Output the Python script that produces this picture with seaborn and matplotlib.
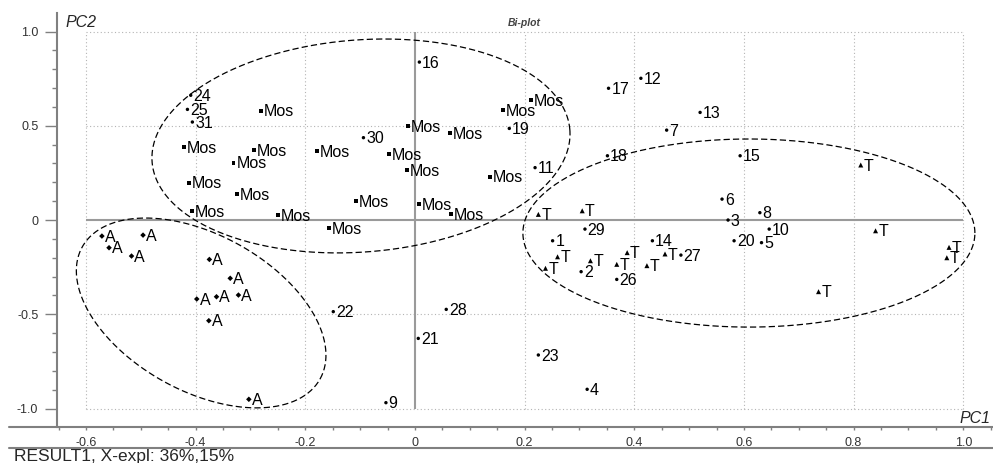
import numpy as np
import pandas as pd
import seaborn as sns
import matplotlib.pyplot as plt
from matplotlib.lines import Line2D

# scores (PC1, PC2)
mos_x = [-0.280, -0.421, -0.293, -0.331, -0.178, -0.413, -0.325, -0.407, -0.250, -0.157,
         -0.108, -0.013, 0.064, -0.047, -0.014, 0.007, 0.066, 0.137, 0.160, 0.212]
mos_y = [0.580, 0.386, 0.371, 0.304, 0.366, 0.198, 0.136, 0.048, 0.025, -0.044,
         0.101, 0.499, 0.460, 0.348, 0.265, 0.086, 0.030, 0.230, 0.584, 0.637]

num_labels = ['1', '2', '3', '4', '5', '6', '7', '8', '9', '10', '11', '12', '13', '14', '15', '16',
              '17', '18', '19', '20', '21', '22', '23', '24', '25', '26', '27', '28', '29', '30', '31']
num_x = [0.251, 0.303, 0.571, 0.314, 0.632, 0.560, 0.459, 0.629, -0.053, 0.646, 0.219, 0.412,
         0.520, 0.433, 0.593, 0.008, 0.353, 0.351, 0.172, 0.582, 0.006, -0.149, 0.225, -0.409,
         -0.415, 0.368, 0.485, 0.057, 0.310, -0.094, -0.406]
num_y = [-0.110, -0.274, 0.000, -0.898, -0.120, 0.111, 0.477, 0.039, -0.969, -0.048, 0.278, 0.752,
         0.571, -0.110, 0.341, 0.838, 0.699, 0.341, 0.486, -0.110, -0.628, -0.486, -0.716, 0.662,
         0.587, -0.315, -0.186, -0.474, -0.048, 0.437, 0.520]

a_x = [-0.571, -0.496, -0.558, -0.517, -0.375, -0.337, -0.398, -0.362, -0.322, -0.376, -0.303]
a_y = [-0.085, -0.080, -0.147, -0.191, -0.209, -0.309, -0.419, -0.407, -0.398, -0.534, -0.951]

t_x = [0.225, 0.305, 0.260, 0.238, 0.320, 0.387, 0.368, 0.423, 0.456, 0.813, 0.840, 0.974, 0.970, 0.736]
t_y = [0.030, 0.049, -0.195, -0.256, -0.216, -0.173, -0.235, -0.242, -0.180, 0.292, -0.057,
       -0.145, -0.200, -0.380]

# group ellipses: centre (data), semi axes (px), angle (deg)
ellipses = [(-0.0985, 0.393, 209.5, 106, 4.4),
            (0.609, -0.069, 226, 94, 0),
            (-0.390, -0.493, 136, 78, -29)]
PX_X, PX_Y = 548.3, 188.4  # pixels per unit on each axis

df = pd.concat([
    pd.DataFrame({'pc1': mos_x, 'pc2': mos_y, 'group': 'Mos', 'label': 'Mos'}),
    pd.DataFrame({'pc1': num_x, 'pc2': num_y, 'group': 'num', 'label': num_labels}),
    pd.DataFrame({'pc1': a_x, 'pc2': a_y, 'group': 'A', 'label': 'A'}),
    pd.DataFrame({'pc1': t_x, 'pc2': t_y, 'group': 'T', 'label': 'T'}),
], ignore_index=True)

sns.set_style('white')
plt.rcParams['font.family'] = ['Liberation Sans', 'DejaVu Sans']

fig = plt.figure(figsize=(9.93, 4.63), dpi=100)
ax = fig.add_axes([57 / 993, 36 / 463, 936 / 993, 414.3 / 463])

xticks = [-0.6, -0.4, -0.2, 0, 0.2, 0.4, 0.6, 0.8, 1.0]
yticks = [-1.0, -0.5, 0, 0.5, 1.0]

# dotted grid and solid zero lines
ax.hlines([y for y in yticks if y != 0], -0.6, 1.0, colors='#b4b4b4', lw=0.8, linestyles=(0, (1, 2.2)), zorder=1)
ax.vlines([x for x in xticks if x != 0], -1.0, 1.0, colors='#b4b4b4', lw=0.8, linestyles=(0, (1, 2.2)), zorder=1)
ax.hlines(0, -0.6, 1.0, colors='#9a9a9a', lw=1.5, zorder=2)
ax.vlines(0, -1.0, 1.0, colors='#9a9a9a', lw=1.5, zorder=2)

sns.scatterplot(data=df, x='pc1', y='pc2', hue='group', style='group', size='group',
                palette={'Mos': 'black', 'num': 'black', 'A': 'black', 'T': 'black'},
                markers={'Mos': 's', 'num': 'o', 'A': 'D', 'T': '^'},
                sizes={'Mos': 8, 'num': 6, 'A': 8, 'T': 13},
                linewidth=0, legend=False, ax=ax, zorder=5)

for _, r in df.iterrows():
    ax.annotate(r['label'], (r['pc1'], r['pc2']), xytext=(2, -4.1), textcoords='offset points',
                ha='left', va='baseline', fontsize=11.5, color='black', zorder=6)

for cx, cy, a, b, ang in ellipses:
    t = np.linspace(0, 2 * np.pi, 400)
    th = np.deg2rad(ang)
    u = a * np.cos(t) * np.cos(th) - b * np.sin(t) * np.sin(th)
    v = a * np.cos(t) * np.sin(th) + b * np.sin(t) * np.cos(th)
    ax.plot(cx + u / PX_X, cy + v / PX_Y, color='black', lw=0.9, ls=(0, (5, 2.5)), zorder=4)

ax.set_xlim(-0.6529, 1.0542)
ax.set_ylim(-1.098, 1.100)
ax.set_xticks(xticks)
ax.set_xticklabels(['-0.6', '-0.4', '-0.2', '0', '0.2', '0.4', '0.6', '0.8', '1.0'])
ax.set_yticks(yticks)
ax.set_yticklabels(['-1.0', '-0.5', '0', '0.5', '1.0'])
ax.set_xticks(np.arange(-0.65, 1.051, 0.05), minor=True)
ax.set_yticks(np.arange(-1.0, 1.01, 0.1), minor=True)
ax.tick_params(axis='y', which='major', direction='out', length=8.5, width=1, color='#808080',
               labelsize=9, labelcolor='#333333', pad=5, left=True)
ax.tick_params(axis='y', which='minor', direction='out', length=3.5, width=1, color='#808080', left=True)
ax.tick_params(axis='x', which='both', direction='out', length=2.5, width=1, color='#808080',
               labelsize=9, labelcolor='#333333', pad=4.5, bottom=True)
ax.set_xlabel('')
ax.set_ylabel('')

for side in ['top', 'right', 'bottom']:
    ax.spines[side].set_visible(False)
ax.spines['left'].set_color('#808080')
ax.spines['left'].set_linewidth(1.5)

# bottom axis line and lower frame line
fig.add_artist(Line2D([9 / 993, 1], [36 / 463, 36 / 463], color='#808080', lw=1.5))
fig.add_artist(Line2D([9 / 993, 1], [15 / 463, 15 / 463], color='#808080', lw=1.5))

fig.text(65 / 993, 1 - 22.5 / 463, 'PC2', fontsize=11.5, style='italic', ha='left', va='center')
fig.text(991 / 993, 1 - 418.5 / 463, 'PC1', fontsize=11.5, style='italic', ha='right', va='center')
fig.text(524 / 993, 1 - 22.5 / 463, 'Bi-plot', fontsize=7.5, style='italic', weight='bold',
         color='#444444', ha='center', va='center')
fig.text(14 / 993, 1 - 456 / 463, 'RESULT1, X-expl: 36%,15%', fontsize=12.5, ha='left', va='center')

fig.savefig('out.png', dpi=100)
